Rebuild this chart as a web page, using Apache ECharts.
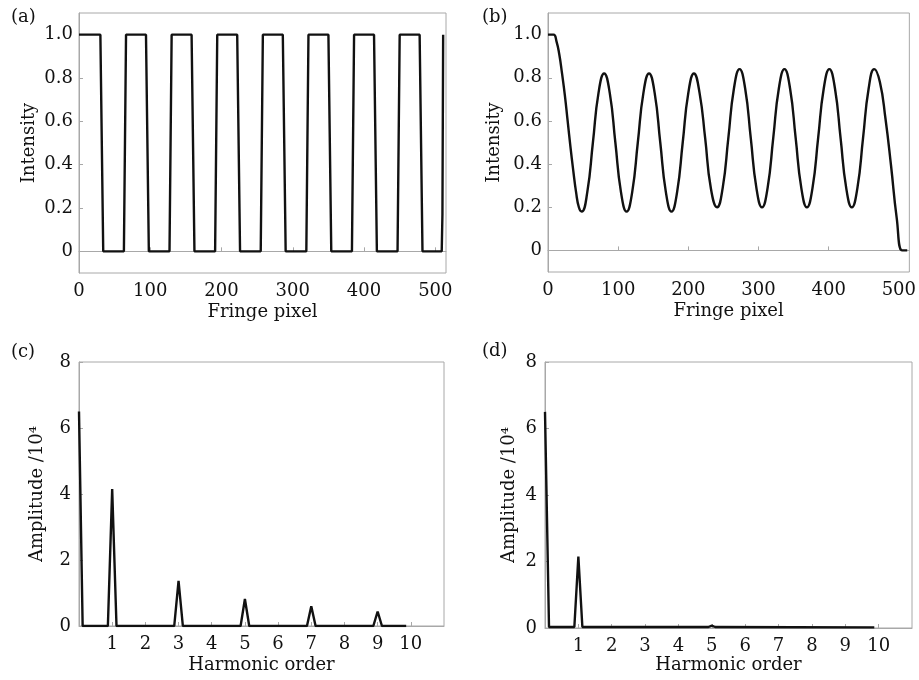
<!DOCTYPE html>
<html>
<head>
<meta charset="utf-8">
<script src="https://cdn.jsdelivr.net/npm/echarts@6/dist/echarts.min.js"></script>
<style>
  html, body { margin: 0; padding: 0; background: #fff; }
  #chart { width: 919px; height: 680px; }
</style>
</head>
<body>
<div id="chart"></div>
<script>
// (a) binary fringe, corner points of the square wave
const squareX = [0, 30, 34, 63, 66, 94, 98, 127, 130, 158, 162, 191, 194, 222, 226, 255, 258, 286, 290, 319, 322, 350, 354, 383, 386, 414, 418, 447, 450, 478, 482, 509, 510, 511]
const squareY = [1, 1, 0, 0, 1, 1, 0, 0, 1, 1, 0, 0, 1, 1, 0, 0, 1, 1, 0, 0, 1, 1, 0, 0, 1, 1, 0, 0, 1, 1, 0, 0, 0.17, 1]

// (b) defocused fringe
const fringeX = [0, 8, 12, 16, 20, 24, 28, 32, 36, 40, 44, 48,
  56, 64, 72, 80, 88, 96, 104, 112, 120, 128, 136, 144, 152, 160, 168, 176,
  184, 192, 200, 208, 216, 224, 232, 241, 249, 257, 265, 273, 281, 289, 297, 305,
  313, 321, 329, 337, 345, 353, 361, 369, 377, 385, 393, 401, 409, 417, 425, 433,
  441, 449, 457, 465, 473, 481, 489, 497, 505, 512]
const fringeY = [1, 1, 0.97, 0.91, 0.82, 0.72, 0.6, 0.48, 0.37, 0.27, 0.2, 0.18,
  0.27, 0.5, 0.73, 0.82, 0.73, 0.5, 0.27, 0.18, 0.27, 0.5, 0.73, 0.82, 0.73, 0.5, 0.27, 0.18,
  0.27, 0.5, 0.73, 0.82, 0.73, 0.52, 0.29, 0.2, 0.29, 0.52, 0.75, 0.84, 0.75, 0.52, 0.29, 0.2,
  0.29, 0.52, 0.75, 0.84, 0.75, 0.52, 0.29, 0.2, 0.29, 0.52, 0.75, 0.84, 0.75, 0.52, 0.29, 0.2,
  0.29, 0.52, 0.75, 0.84, 0.78, 0.61, 0.39, 0.15, 0, 0]

// (c) spectrum of the binary fringe
const specCX = [0, 0.11, 0.87, 1, 1.13, 2.87, 3, 3.13, 4.87, 5, 5.13, 6.87, 7, 7.13, 8.87, 9, 9.13, 9.86]
const specCY = [6.5, 0, 0, 4.15, 0, 0, 1.37, 0, 0, 0.82, 0, 0, 0.6, 0, 0, 0.44, 0, 0]

// (d) spectrum of the defocused fringe
const specDX = [0, 0.12, 0.88, 1, 1.12, 4.9, 5, 5.1, 9.87]
const specDY = [6.5, 0.03, 0.03, 2.15, 0.03, 0.03, 0.07, 0.03, 0.02]

const intensityTicks = [0, 0.2, 0.4, 0.6, 0.8, 1.0]
const pixelTicks = [0, 100, 200, 300, 400, 500]
const orderTicks = [1, 2, 3, 4, 5, 6, 7, 8, 9, 10]

const font = 'DejaVu Serif'
const fontSize = 18
const gray = '#a8a8a8'
const zip = (xs, ys) => xs.map((x, i) => [x, ys[i]])

function xAxis(gridIndex, max, ticks, gap) {
  const name = max > 100 ? 'Fringe pixel' : 'Harmonic order'
  return {
    gridIndex: gridIndex,
    type: 'value',
    min: 0,
    max: max,
    name: name,
    nameLocation: 'middle',
    nameGap: gap,
    nameTextStyle: { fontFamily: font, fontSize: fontSize, color: '#111' },
    axisLine: { lineStyle: { color: gray, width: 1 } },
    axisTick: { inside: true, length: 4, lineStyle: { color: gray }, customValues: ticks },
    axisLabel: { customValues: ticks, margin: 9, fontFamily: font, fontSize: fontSize, color: '#111' },
    splitLine: { show: false }
  }
}

function intensityAxis(gridIndex, gap) {
  return {
    gridIndex: gridIndex,
    type: 'value',
    min: -0.1,
    max: 1.1,
    name: 'Intensity',
    nameLocation: 'middle',
    nameGap: gap,
    nameTextStyle: { fontFamily: font, fontSize: fontSize, color: '#111' },
    axisLine: { show: true, lineStyle: { color: gray, width: 1 } },
    axisTick: { show: true, inside: true, length: 4, lineStyle: { color: gray }, customValues: intensityTicks },
    axisLabel: {
      customValues: intensityTicks,
      margin: 6,
      fontFamily: font,
      fontSize: fontSize,
      color: '#111',
      formatter: v => (v === 0 ? '0' : v.toFixed(1))
    },
    splitLine: { show: false }
  }
}

function amplitudeAxis(gridIndex, gap) {
  return {
    gridIndex: gridIndex,
    type: 'value',
    min: 0,
    max: 8,
    interval: 2,
    name: 'Amplitude /10⁴',
    nameLocation: 'middle',
    nameGap: gap,
    nameTextStyle: { fontFamily: font, fontSize: fontSize, color: '#111' },
    axisLine: { show: true, lineStyle: { color: gray, width: 1 } },
    axisTick: { show: true, inside: true, length: 4, lineStyle: { color: gray } },
    axisLabel: { margin: 8, fontFamily: font, fontSize: fontSize, color: '#111' },
    splitLine: { show: false }
  }
}

function lineSeries(idx, data, smooth) {
  return {
    type: 'line',
    xAxisIndex: idx,
    yAxisIndex: idx,
    data: data,
    showSymbol: false,
    smooth: smooth,
    lineStyle: { color: '#111', width: 2.4 },
    itemStyle: { color: '#111' }
  }
}

function panelLabel(text, left, top) {
  return {
    type: 'text',
    left: left,
    top: top,
    style: { text: text, fontFamily: font, fontSize: fontSize, fill: '#111' }
  }
}

const chart = echarts.init(document.getElementById('chart'))
const option = {
  animation: false,
  backgroundColor: '#fff',
  grid: [
    { left: 79, top: 13, width: 367, height: 260, show: true, borderColor: gray, borderWidth: 1 },
    { left: 548, top: 13, width: 363, height: 259, show: true, borderColor: gray, borderWidth: 1 },
    { left: 79, top: 362, width: 365, height: 264, show: true, borderColor: gray, borderWidth: 1 },
    { left: 545, top: 362, width: 367, height: 266, show: true, borderColor: gray, borderWidth: 1 }
  ],
  xAxis: [
    xAxis(0, 515, pixelTicks, 30),
    xAxis(1, 515, pixelTicks, 30),
    xAxis(2, 11, orderTicks, 30),
    xAxis(3, 11, orderTicks, 28)
  ],
  yAxis: [
    intensityAxis(0, 41),
    intensityAxis(1, 45),
    amplitudeAxis(2, 33),
    amplitudeAxis(3, 27)
  ],
  series: [
    lineSeries(0, zip(squareX, squareY), false),
    lineSeries(1, zip(fringeX, fringeY), 0.5),
    lineSeries(2, zip(specCX, specCY), false),
    lineSeries(3, zip(specDX, specDY), false)
  ],
  graphic: [
    panelLabel('(a)', 11, 8),
    panelLabel('(b)', 482, 8),
    panelLabel('(c)', 11, 343),
    panelLabel('(d)', 482, 342)
  ]
}
chart.setOption(option)
</script>
</body>
</html>
